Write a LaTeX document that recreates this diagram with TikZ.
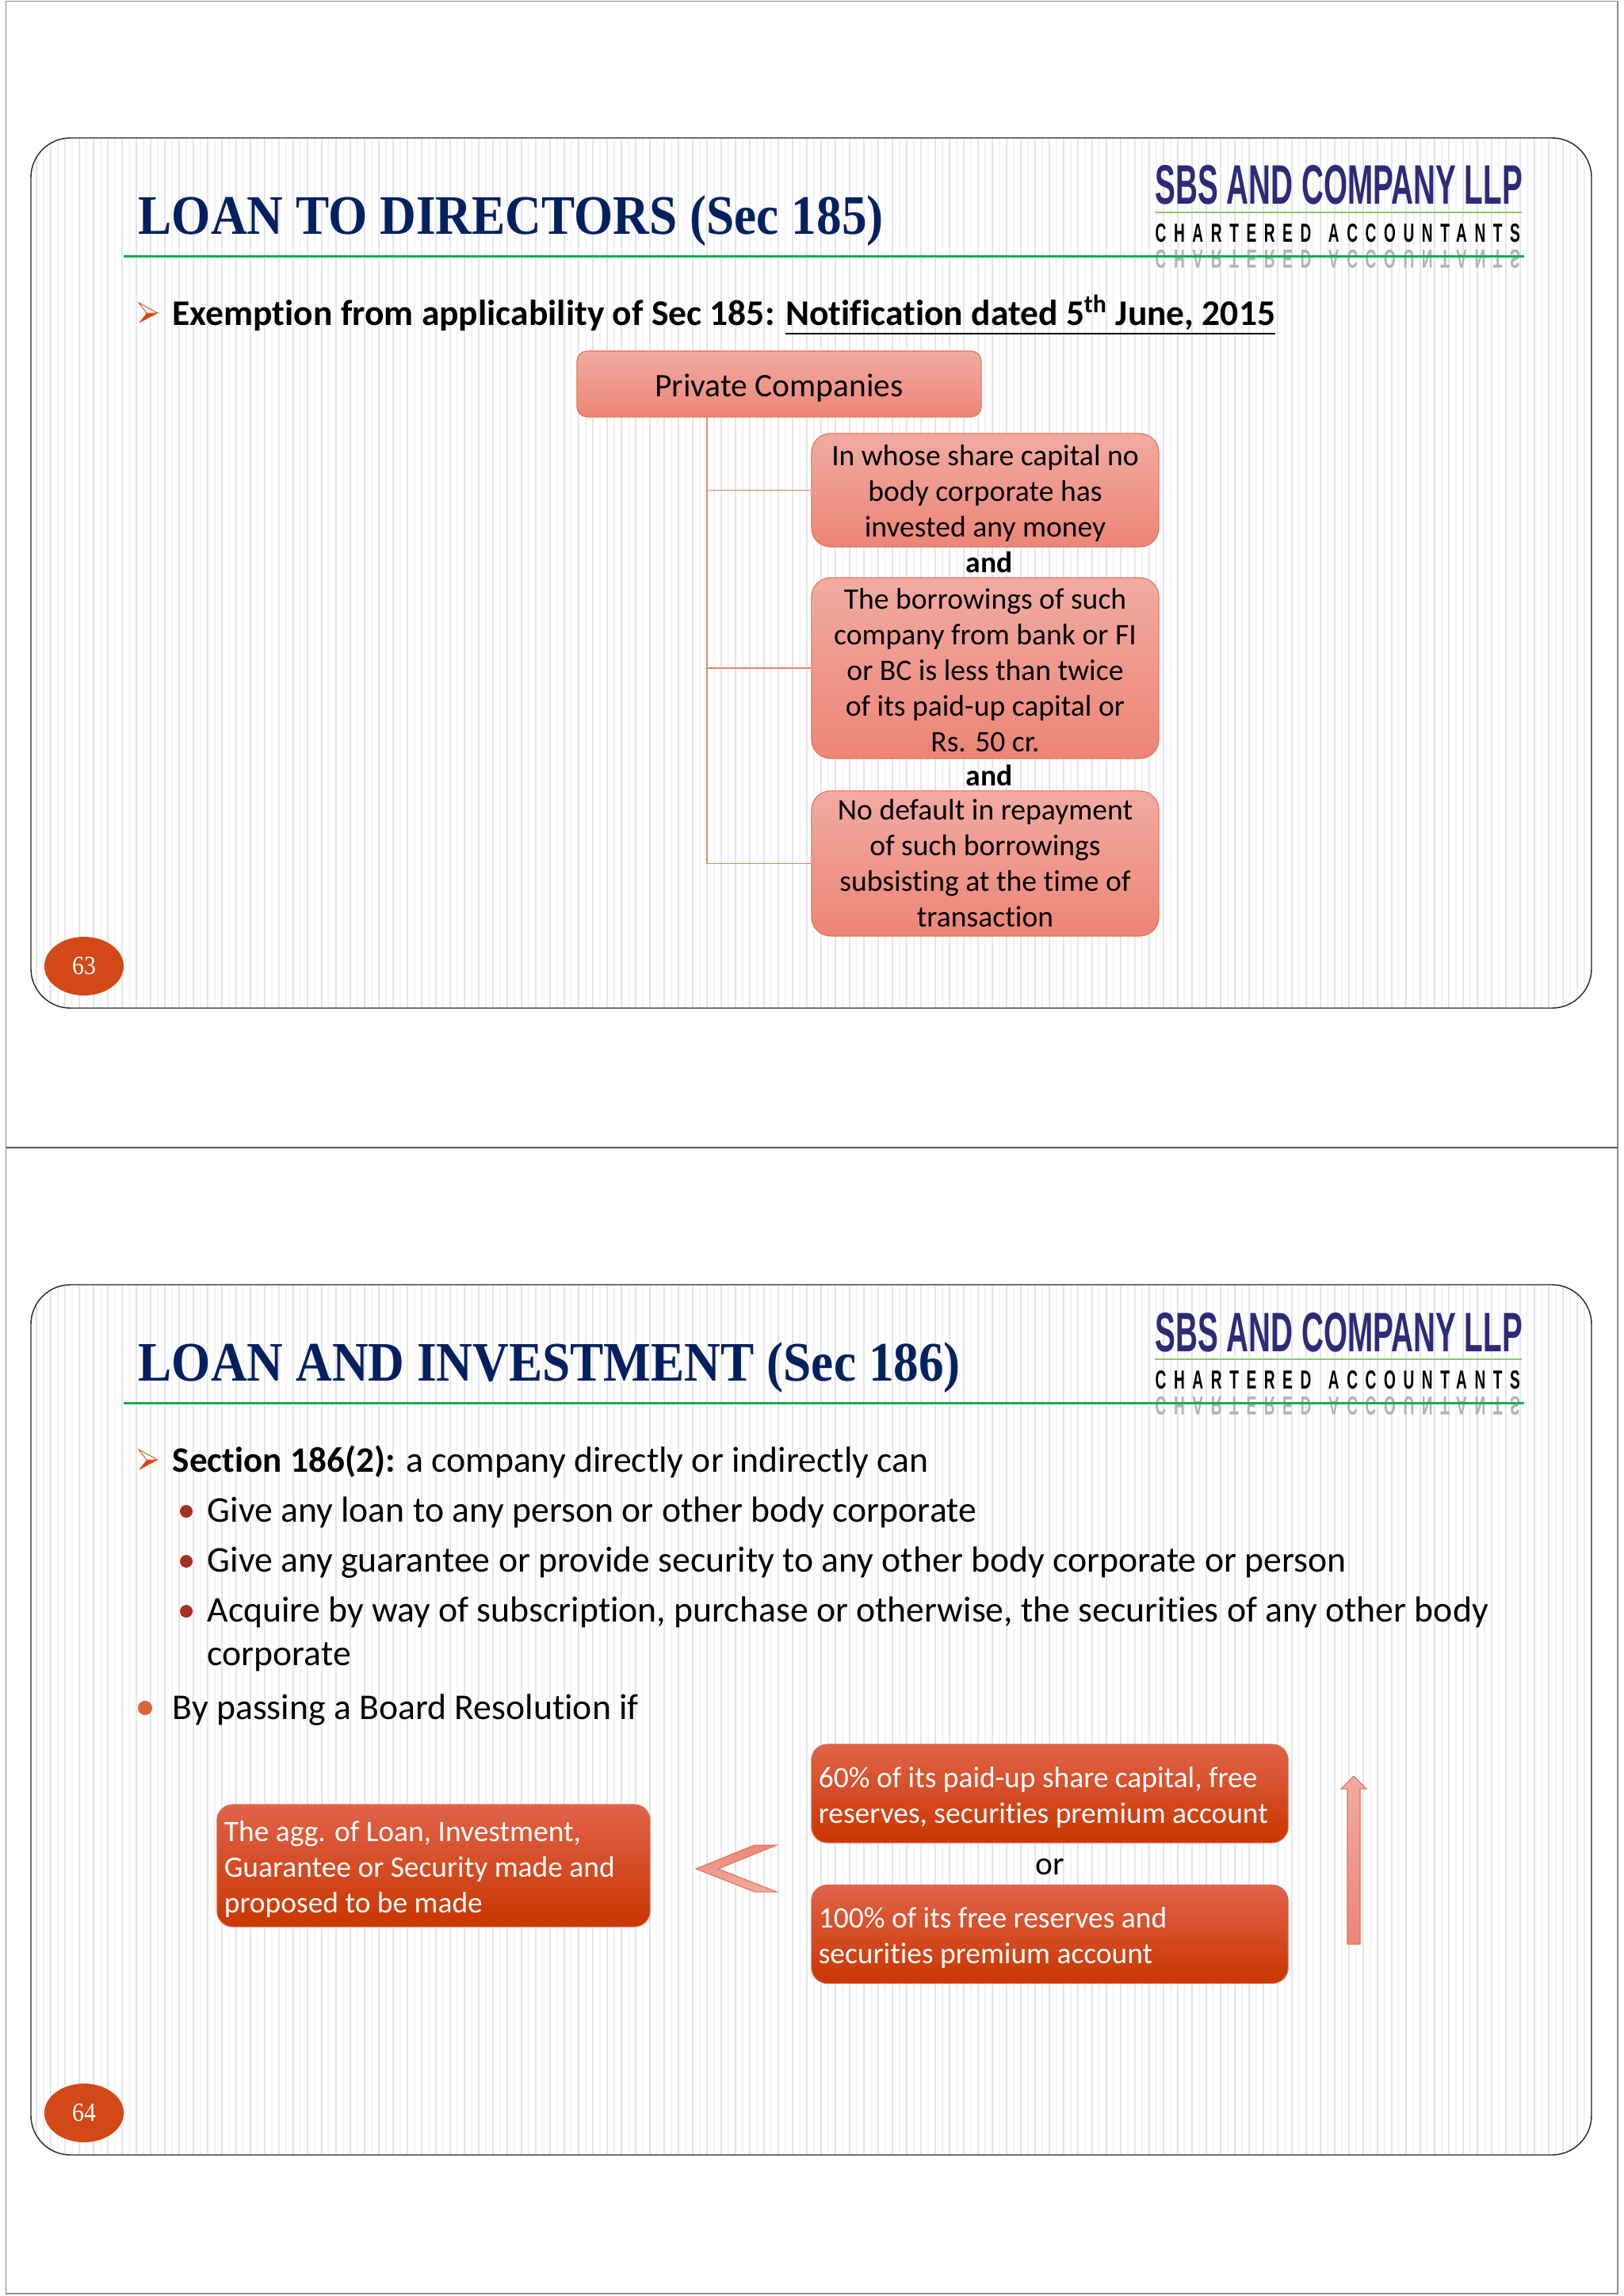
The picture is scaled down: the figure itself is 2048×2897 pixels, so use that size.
\documentclass[tikz,border=0pt]{standalone}
\usepackage{graphicx}
\usepackage{fontspec}
\setmainfont{Carlito}[Ligatures={NoCommon}]
\newfontfamily\titlefont{Liberation Serif}[FakeStretch=0.9]
\newfontfamily\logofont{Liberation Sans}
\newfontfamily\logospaced{Liberation Sans}[LetterSpace=50]
\usetikzlibrary{shapes.geometric}
\definecolor{navytitle}{HTML}{00205F}
\definecolor{logoblue}{HTML}{2E2A78}
\definecolor{rulegreen}{HTML}{10AE52}
\definecolor{logogreen}{HTML}{8CC46E}
\definecolor{badgeorange}{HTML}{D34817}
\definecolor{stripe}{HTML}{E4E4EA}
\definecolor{stripelight}{HTML}{F3F3F6}
\definecolor{pinktop}{HTML}{F2ABA2}
\definecolor{pinkbottom}{HTML}{EC8576}
\definecolor{pinkedge}{HTML}{E0704F}
\definecolor{redtop}{HTML}{E0634A}
\definecolor{redmiddle}{HTML}{D9480F}
\definecolor{redbottom}{HTML}{C93600}
\definecolor{dotred}{HTML}{A33020}
\tikzset{
  slidetitle/.style={anchor=base west, inner sep=0, text=navytitle, font=\titlefont\bfseries\fontsize{20}{24}\selectfont},
  bodyline/.style={anchor=base west, inner sep=0, font=\fontsize{13}{15.6}\selectfont},
  pinkbox/.style={draw=pinkedge, line width=0.3pt, top color=pinktop, bottom color=pinkbottom, rounded corners=0.24cm, align=center, inner sep=0, font=\fontsize{10.7}{12.8}\selectfont, execute at begin node={\rule{0pt}{0.95em}}},
  redbox/.style={draw=redtop, line width=0.3pt, top color=redtop, middle color=redmiddle, bottom color=redbottom, rounded corners=0.2cm, align=flush left, text=white, inner xsep=0.09cm, inner ysep=0, font=\fontsize{10.65}{12.8}\selectfont, execute at begin node={\rule{0pt}{0.95em}}},
  treeline/.style={draw=pinkedge!85, line width=0.35pt},
  arrowbullet/.pic={
    \fill[badgeorange] (24,13) -- (0,26) -- (10,13) -- cycle;
    \draw[badgeorange, fill=white, line width=0.25pt] (24,13) -- (0,0) -- (10,13) -- cycle;
  }
}
\begin{document}
\begin{tikzpicture}[x=0.01cm, y=-0.01cm]
  \useasboundingbox (0,0) rectangle (2048,2897);
  \fill[white] (0,0) rectangle (2048,2897);
  \draw[black!45, line width=0.4pt] (7.5,1.5) rectangle (2041,2894);
  \draw[black!65, line width=0.4pt] (7.5,1448) -- (2041,1448);
  % both slides share the frame and the logo
  \foreach \slideno/\slidey in {63/0,64/1447} {
    \begin{scope}[shift={(0,\slidey)}]
      \begin{scope}
        \clip[rounded corners=0.5cm] (39,174) rectangle (2008,1272);
        \foreach \x in {46,64,...,2008} \draw[stripe, line width=0.8pt] (\x,174) -- (\x,1272);
        \foreach \x in {55,73,...,2008} \draw[stripelight, line width=0.8pt] (\x,174) -- (\x,1272);
      \end{scope}
      \draw[black!85, line width=0.4pt, rounded corners=0.5cm] (39,174) rectangle (2008,1272);
      \node[anchor=base west, inner sep=0, text=logoblue] (logoname\slideno) at (1457,258) {\resizebox{4.63cm}{0.49cm}{\logofont\bfseries SBS AND COMPANY LLP}};
      \draw[logogreen, line width=0.45pt] (1457,268) -- (1920,268);
      \node[anchor=base west, inner sep=0] (logosub\slideno) at (1457,305) {\resizebox{4.6cm}{0.23cm}{\logospaced\bfseries CHARTERED\hspace{0.35em} ACCOUNTANTS}};
      \node[anchor=base west, inner sep=0, text=black!30] (logomirror\slideno) at (1457,315) {\scalebox{1}[-1]{\resizebox{4.6cm}{0.23cm}{\logospaced\bfseries CHARTERED\hspace{0.35em} ACCOUNTANTS}}};
      \draw[rulegreen, line width=1pt] (156,323.5) -- (1923,323.5);
      \node[ellipse, fill=badgeorange, text=white, minimum width=1cm, minimum height=0.74cm, inner sep=0, font=\titlefont\fontsize{9.4}{10}\selectfont] (badge\slideno) at (106,1219) {\slideno};
    \end{scope}
  }
  % slide 63
  \node[slidetitle] (title63) at (174,295) {LOAN TO DIRECTORS (Sec 185)};
  \pic at (175,382) {arrowbullet};
  \node[bodyline, font=\fontsize{12.95}{15.6}\selectfont] (exemption) at (217,410) {\textbf{Exemption from applicability of Sec 185: \underline{Notification dated 5\textsuperscript{th} June, 2015}}};
  \node[pinkbox, minimum width=5.1cm, minimum height=0.83cm, rounded corners=0.13cm, font=\fontsize{11.8}{14}\selectfont] (private) at (983,484.5) {Private Companies};
  \node[pinkbox, minimum width=4.38cm, minimum height=1.43cm, text height=35.5pt] (nobody) at (1243,618.5) {In whose share capital no\\body corporate has\\invested any money};
  \node[pinkbox, minimum width=4.38cm, minimum height=2.28cm, text height=60pt] (borrowings) at (1243,843) {The borrowings of such\\company from bank or FI\\or BC is less than twice\\of its paid-up capital or\\Rs. 50 cr.};
  \node[pinkbox, minimum width=4.38cm, minimum height=1.83cm] (nodefault) at (1243,1089.5) {No default in repayment\\of such borrowings\\subsisting at the time of\\transaction};
  \node[anchor=base, inner sep=0, font=\bfseries\fontsize{10.7}{12.8}\selectfont] (and1) at (1248,722) {and};
  \node[anchor=base, inner sep=0, font=\bfseries\fontsize{10.7}{12.8}\selectfont] (and2) at (1248,991) {and};
  \coordinate (trunk) at (892,526);
  \draw[treeline] (trunk) |- (nobody.west);
  \draw[treeline] (trunk) |- (borrowings.west);
  \draw[treeline] (trunk) |- (nodefault.west);
  % slide 64
  \node[slidetitle] (title64) at (174,1742) {LOAN AND INVESTMENT (Sec 186)};
  \pic at (175,1829) {arrowbullet};
  \node[bodyline] (section) at (217,1857) {\textbf{\fontsize{12.85}{15.6}\selectfont Section 186(2):} a company directly or indirectly can};
  \fill[dotred] (235,1907) circle (8);
  \node[bodyline] (giveloan) at (261,1920) {Give any loan to any person or other body corporate};
  \fill[dotred] (235,1970) circle (8);
  \node[bodyline] (giveguarantee) at (261,1983) {Give any guarantee or provide security to any other body corporate or person};
  \fill[dotred] (235,2033) circle (8);
  \node[bodyline] (acquire) at (261,2046) {Acquire by way of subscription, purchase or otherwise, the securities of any other body};
  \node[bodyline] (corporate) at (261,2101) {corporate};
  \fill[badgeorange!85] (183,2155) circle (9);
  \node[bodyline] (passing) at (217,2169) {By passing a Board Resolution if};
  \node[redbox, text width=5.28cm, minimum height=1.54cm] (aggregate) at (547,2354) {The agg. of Loan, Investment,\\Guarantee or Security made and\\proposed to be made};
  \node[redbox, text width=5.83cm, minimum height=1.24cm] (sixty) at (1324.5,2263) {60\% of its paid-up share capital, free\\reserves, securities premium account};
  \node[redbox, text width=5.83cm, minimum height=1.24cm] (hundred) at (1324.5,2440.5) {100\% of its free reserves and\\securities premium account};
  \node[anchor=base, inner sep=0, font=\fontsize{11.8}{14}\selectfont] (orword) at (1325,2365) {or};
  % less-than sign and up arrow
  \draw[pinkedge, line width=0.3pt, top color=pinkbottom, bottom color=pinktop] (878,2358) -- (952,2328) -- (980,2328) -- (906,2358) -- (980,2387) -- (952,2387) -- cycle;
  \draw[pinkedge, line width=0.3pt, top color=pinktop, bottom color=pinkbottom] (1708,2241) -- (1724,2257) -- (1716,2257) -- (1716,2453) -- (1700,2453) -- (1700,2257) -- (1692,2257) -- cycle;
\end{tikzpicture}
\end{document}
